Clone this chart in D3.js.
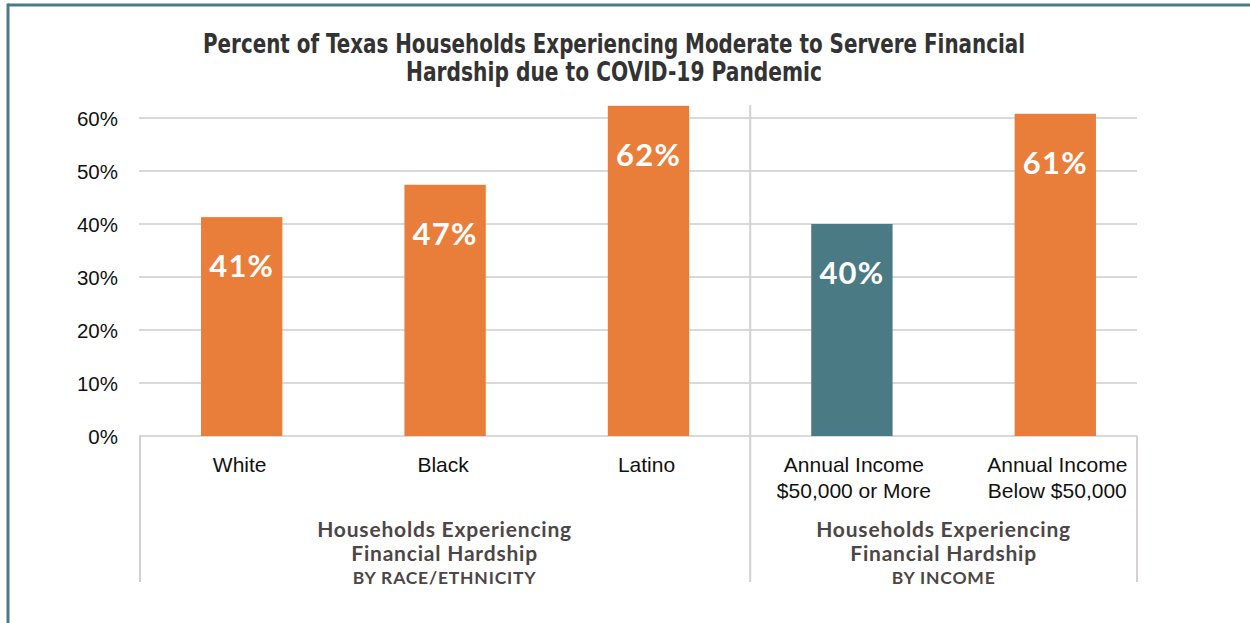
<!DOCTYPE html>
<html><head><meta charset="utf-8">
<script src="https://cdn.jsdelivr.net/npm/d3@7"></script>
<style>body{margin:0;background:#fff}svg{display:block}</style>
</head><body>
<svg id="c" width="1250" height="623"></svg>
<script>
const categories = ["White", "Black", "Latino", "Annual Income\n$50,000 or More", "Annual Income\nBelow $50,000"];
const values = [41.3, 47.4, 62.3, 40.0, 60.8];
const valueLabels = ["41%", "47%", "62%", "40%", "61%"];
const barKind = ["base", "base", "base", "highlight", "base"];
const yTicks = [0, 10, 20, 30, 40, 50, 60];
const groupLines = [["Households Experiencing", "Financial Hardship", "BY RACE/ETHNICITY"],
                    ["Households Experiencing", "Financial Hardship", "BY INCOME"]];
const titleLines = ["Percent of Texas Households Experiencing Moderate to Servere Financial",
                    "Hardship due to COVID-19 Pandemic"];

const svg = d3.select("#c");
const colors = {base: "#E97E3B", highlight: "#4A7B85"};

// frame
svg.append("line").attr("x1", 8).attr("x2", 1250).attr("y1", 5).attr("y2", 5)
  .attr("stroke", "#4A7B85").attr("stroke-width", 3);
svg.append("line").attr("x1", 8).attr("x2", 8).attr("y1", 3.5).attr("y2", 623)
  .attr("stroke", "#4A7B85").attr("stroke-width", 3);

const x = d3.scaleBand().domain(categories).range([140, 1157]).paddingInner(0.6).paddingOuter(0.3);
const y = d3.scaleLinear().domain([0, 60]).range([436, 118]);
const gridX1 = 139, gridX2 = 1137;

// gridlines
svg.append("g").selectAll("line").data(yTicks).join("line")
  .attr("x1", gridX1).attr("x2", gridX2)
  .attr("y1", d => y(d)).attr("y2", d => y(d))
  .attr("stroke", "#d9d9d9").attr("stroke-width", 2);

// y axis labels
const yAxis = d3.axisLeft(y).tickValues(yTicks).tickFormat(d => d + "%").tickSize(0).tickPadding(0);
const ya = svg.append("g").attr("transform", "translate(118,0)").call(yAxis);
ya.select(".domain").remove();
ya.selectAll("text").attr("font-family", "Liberation Sans, Arial, sans-serif")
  .attr("font-size", 20.5).attr("fill", "#111").attr("dy", "0.35em");

// separators
const sepColor = "#d4d0d0";
const midX = (x(categories[2]) + x.bandwidth() + x(categories[3])) / 2;
svg.append("line").attr("x1", midX).attr("x2", midX).attr("y1", 105).attr("y2", 582)
  .attr("stroke", sepColor).attr("stroke-width", 2);
svg.append("line").attr("x1", gridX1 + 1).attr("x2", gridX1 + 1).attr("y1", 436).attr("y2", 582)
  .attr("stroke", sepColor).attr("stroke-width", 2);
svg.append("line").attr("x1", gridX2).attr("x2", gridX2).attr("y1", 436).attr("y2", 582)
  .attr("stroke", sepColor).attr("stroke-width", 2);

// bars
svg.append("g").selectAll("rect").data(categories).join("rect")
  .attr("x", d => x(d)).attr("width", x.bandwidth())
  .attr("y", (d, i) => y(values[i])).attr("height", (d, i) => y(0) - y(values[i]))
  .attr("fill", (d, i) => colors[barKind[i]]);

// value labels
svg.append("g").selectAll("text").data(categories).join("text")
  .attr("x", d => x(d) + x.bandwidth() / 2)
  .attr("y", (d, i) => y(values[i]) + 60)
  .attr("text-anchor", "middle")
  .attr("font-family", "Lato, 'Noto Sans', sans-serif").attr("font-weight", 700)
  .attr("font-size", 31).attr("letter-spacing", 1.2).attr("fill", "#fff")
  .text((d, i) => valueLabels[i]);

// category labels
const cl = svg.append("g").selectAll("text").data(categories).join("text")
  .attr("text-anchor", "middle")
  .attr("font-family", "Liberation Sans, Arial, sans-serif").attr("font-size", 21).attr("fill", "#111");
cl.each(function(d) {
  const t = d3.select(this);
  d.split("\n").forEach((line, k) => {
    t.append("tspan").attr("x", x(d) + x.bandwidth() / 2 + (d.indexOf("\n") >= 0 ? 2 : -2))
      .attr("y", 472 + k * 26).text(line);
  });
});

// group labels
const groupCenters = [(gridX1 + midX) / 2, (midX + gridX2) / 2];
groupLines.forEach((lines, gi) => {
  const t = svg.append("text").attr("text-anchor", "middle")
    .attr("font-family", "Lato, 'Noto Sans', sans-serif").attr("font-weight", 700).attr("fill", "#4d4646");
  lines.forEach((line, k) => {
    t.append("tspan").attr("x", groupCenters[gi]).attr("y", [537, 561, 584][k])
      .attr("font-size", k < 2 ? 21 : 17.5).attr("letter-spacing", k < 2 ? 0.8 : 0.8).text(line);
  });
});

// title
const titleWidths = [822, 416];
titleLines.forEach((line, k) => {
  svg.append("text").attr("x", 614).attr("y", [53, 81][k]).attr("text-anchor", "middle")
    .attr("font-family", "'Liberation Sans Narrow', 'DejaVu Sans Condensed', sans-serif")
    .attr("font-weight", 700).attr("font-size", 26).attr("fill", "#333")
    .attr("textLength", titleWidths[k]).attr("lengthAdjust", "spacingAndGlyphs")
    .text(line);
});
</script>
</body></html>
